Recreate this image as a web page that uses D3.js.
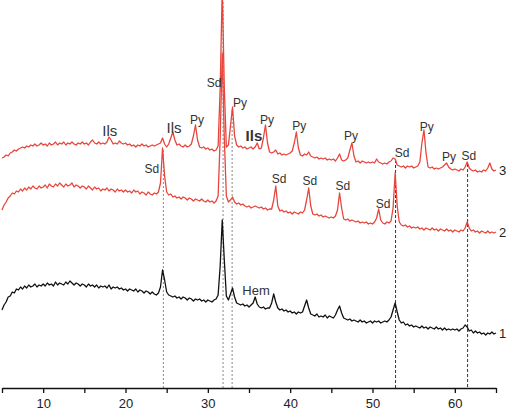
<!DOCTYPE html>
<html>
<head>
<meta charset="utf-8">
<script src="https://cdn.jsdelivr.net/npm/d3@7"></script>
<style>
  body { margin: 0; background: #fff; }
  svg { display: block; font-family: "Liberation Sans", Arial, sans-serif; }
</style>
</head>
<body>
<svg width="507" height="411"></svg>
<script>
// 2-theta grid, 5..65 deg in 0.25 deg steps
const twoTheta = d3.range(0, 241).map(i => 5 + i * 0.25);

// intensities (a.u., stacked)
const pattern1 = [
  78,83,86,91,92,96,95,99,98,101,99,102,100,103,101,102,104,101,103,102,
  104,102,105,103,104,102,106,103,105,104,103,106,104,107,105,103,105,104,102,104,
  103,101,104,102,103,101,103,100,102,101,102,100,103,99,101,100,101,99,100,98,
  99,97,99,98,97,99,96,98,97,95,97,96,94,96,94,93,95,101,118,108,
  96,93,92,91,92,90,91,89,91,90,88,90,89,87,89,88,89,87,88,86,
  88,87,86,88,89,93,122,168,128,92,88,94,100,91,85,84,83,84,82,83,
  81,83,85,91,84,81,80,81,79,80,80,85,94,86,80,78,79,77,78,76,
  77,75,76,74,76,75,76,82,88,80,74,73,72,74,71,72,71,73,70,72,
  71,70,73,78,82,75,70,69,68,69,67,68,67,66,68,66,67,65,66,67,
  65,67,66,67,65,66,67,66,68,71,78,85,76,68,65,66,63,64,62,63,
  61,62,61,60,62,60,61,59,61,60,59,61,59,60,58,60,58,59,58,59,
  58,59,57,59,60,63,61,57,58,55,57,55,56,54,55,53,55,54,56,54,55
];
const pattern2 = [
  178,183,186,190,192,195,194,197,196,199,197,200,198,201,199,202,200,199,202,200,
  201,203,200,204,202,201,204,202,205,203,201,204,202,203,205,201,203,202,200,202,
  201,199,202,200,198,201,199,200,197,199,198,200,197,199,198,196,199,197,198,196,
  198,196,197,195,198,196,197,194,196,195,193,196,194,193,195,194,196,205,240,212,
  196,193,194,191,192,190,191,189,191,190,188,190,189,187,189,188,187,189,187,186,
  188,186,187,185,187,192,250,335,250,192,186,188,191,186,184,185,183,184,182,181,
  182,180,181,182,181,180,181,179,180,178,179,179,188,202,182,177,178,176,177,175,
  176,174,176,175,174,176,175,178,188,200,182,174,173,174,172,173,171,172,171,170,
  171,170,172,178,195,180,169,168,169,167,168,167,166,167,165,166,165,166,164,165,
  164,166,170,179,168,165,164,166,165,167,180,215,182,166,163,162,163,161,162,160,
  161,160,161,159,160,158,160,159,158,160,158,159,157,159,158,157,159,157,158,156,
  158,157,156,158,157,160,166,160,157,158,156,157,155,157,156,155,157,155,156,155,156
];
const pattern3 = [
  230,231,233,232,235,236,238,237,239,240,241,240,242,241,243,242,244,242,243,245,
  243,244,242,245,243,244,246,243,245,244,246,243,245,244,246,244,243,245,244,246,
  244,245,243,246,248,245,244,246,244,245,244,246,251,248,244,245,244,247,245,244,
  245,243,244,242,243,241,243,242,244,242,243,241,242,243,242,243,244,245,250,244,
  241,244,250,256,248,243,244,242,241,243,241,242,244,252,263,248,241,240,241,239,
  240,238,239,237,238,242,300,400,300,241,243,262,281,252,243,241,242,240,241,239,
  240,241,239,241,245,239,240,250,263,245,236,235,236,238,234,235,233,234,233,234,
  235,237,245,256,240,233,232,234,233,236,232,231,230,231,229,230,229,230,228,229,
  228,229,227,230,234,228,227,228,230,238,245,232,226,227,225,227,226,225,226,225,
  226,225,229,226,225,224,225,224,226,227,230,229,223,222,221,222,220,222,221,222,
  220,221,222,226,245,258,235,221,220,221,219,220,219,220,221,223,225,221,219,218,
  219,218,217,219,218,221,226,220,218,217,218,216,217,216,218,217,220,225,219,217,218
];

const patternNames = ["1", "2", "3"];

// phase labels: [text, 2theta, intensity]
const phaseLabels = [
  ["Ils", 18.1, 252], ["Ils", 25.9, 255], ["Py", 28.7, 264], ["Sd", 30.75, 301],
  ["Py", 33.9, 281], ["Ils", 35.6, 247], ["Py", 37.2, 264], ["Py", 41.1, 258],
  ["Py", 47.4, 248], ["Sd", 53.6, 231], ["Py", 56.6, 257], ["Py", 59.3, 227],
  ["Sd", 61.7, 228],
  ["Sd", 23.2, 215], ["Sd", 38.65, 205], ["Sd", 42.4, 203], ["Sd", 46.4, 198],
  ["Sd", 51.3, 180],
  ["Hem", 35.85, 93]
];

// reference lines: [2theta, top intensity]
const refLines = [[24.6, 238], [31.85, 390], [32.95, 278], [52.8, 228], [61.55, 224]];

const svg = d3.select("svg");

const x = d3.scaleLinear().domain([5, 65]).range([2, 496]);
const y = d3.scaleLinear().domain([0, 388]).range([388, 0]);

// dashed reference lines
svg.append("g")
  .selectAll("line")
  .data(refLines)
  .enter()
  .append("line")
  .attr("x1", d => x(d[0])).attr("x2", d => x(d[0]))
  .attr("y1", d => y(d[1])).attr("y2", y(0))
  .attr("stroke", (d, i) => i > 2 ? "#333" : "#888")
  .attr("stroke-width", 1)
  .attr("stroke-dasharray", (d, i) => i > 2 ? "3,2" : "2,2");

const line = d3.line()
  .x((d, i) => x(twoTheta[i]))
  .y(d => y(d));

const series = [
  {name: patternNames[0], values: pattern1, color: "#111"},
  {name: patternNames[1], values: pattern2, color: "#e8453c"},
  {name: patternNames[2], values: pattern3, color: "#e8453c"}
];

svg.append("g")
  .selectAll("path")
  .data(series)
  .enter()
  .append("path")
  .attr("d", d => line(d.values))
  .attr("fill", "none")
  .attr("stroke", d => d.color)
  .attr("stroke-width", 1.3)
  .attr("stroke-linejoin", "round");

// pattern numbers at the right end
svg.append("g")
  .selectAll("text")
  .data(series)
  .enter()
  .append("text")
  .attr("x", x(65) + 3)
  .attr("y", d => y(d.values[d.values.length - 1]) + 5)
  .attr("font-size", 13)
  .attr("fill", "#222")
  .text(d => d.name);

// phase labels
svg.append("g")
  .selectAll("text")
  .data(phaseLabels)
  .enter()
  .append("text")
  .attr("x", d => x(d[1]))
  .attr("y", d => y(d[2]))
  .attr("text-anchor", "middle")
  .attr("font-size", d => d[0] === "Ils" ? 15 : (d[0] === "Hem" ? 13 : 12))
  .attr("font-weight", (d, i) => i === 5 ? "bold" : "normal")
  .attr("fill", "#333")
  .text(d => d[0]);

// axis
const axis = svg.append("g")
  .attr("transform", `translate(0,${y(0)})`)
  .call(d3.axisBottom(x)
    .tickValues(d3.range(5, 66, 5))
    .tickFormat(d => d % 10 === 0 ? d : "")
    .tickSize(5)
    .tickSizeOuter(0));
axis.select(".domain").attr("stroke", "#111").attr("stroke-width", 1.5);
axis.selectAll(".tick line").attr("stroke", "#111").attr("stroke-width", 1.3);
axis.selectAll(".tick text")
  .attr("font-size", 13)
  .attr("font-family", "'Liberation Sans', Arial, sans-serif")
  .attr("fill", "#222")
  .attr("dy", "0.9em");
</script>
</body>
</html>
